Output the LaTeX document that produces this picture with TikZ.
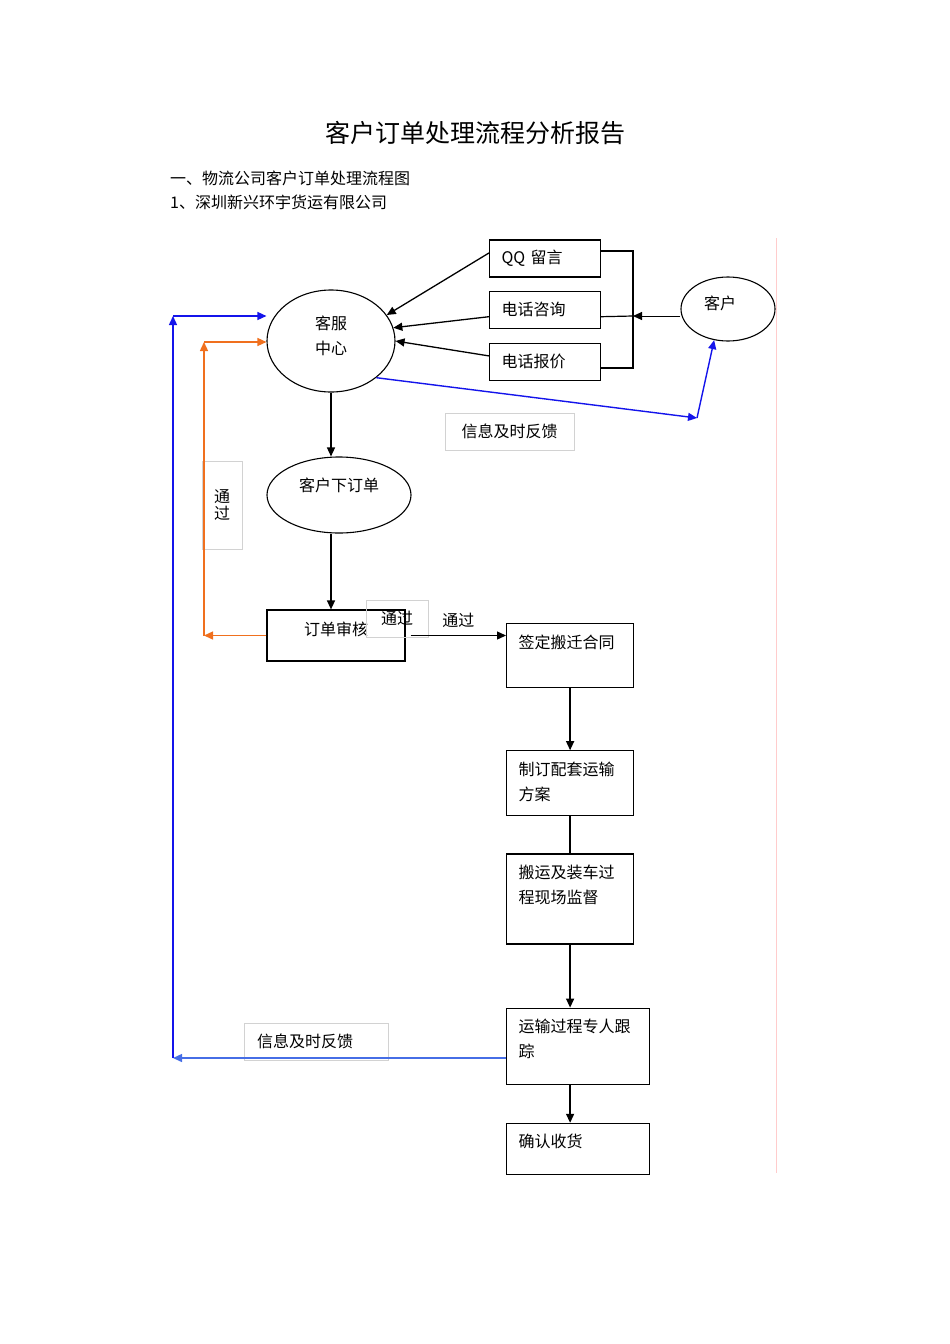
\documentclass[tikz,border=0pt]{standalone}
\usepackage{fontspec}
\setmainfont{Noto Sans CJK SC}
\usetikzlibrary{positioning, shapes.geometric, arrows.meta, calc}

\definecolor{fbblue}{RGB}{20,20,235}
\definecolor{fbblue2}{RGB}{70,110,230}
\definecolor{passorange}{RGB}{240,112,30}

\newcommand{\boxtext}[3]{\parbox[t][#2][t]{#1}{\raggedright #3}}

\begin{document}
\begin{tikzpicture}[
        x=1pt, y=-1pt,
        >={Triangle[length=9pt,width=8pt]},
        every node/.style={font=\fontsize{16}{25}\selectfont},
        proc/.style={
            draw, line width=1.2pt,
            inner xsep=12pt, inner ysep=11pt,
            anchor=north west
        },
        chan/.style={
            draw, line width=1.2pt,
            minimum width=111pt, minimum height=37pt,
            text width=87pt, align=left,
            inner xsep=12pt, inner ysep=0pt
        },
        oval/.style={
            draw, ellipse, line width=1.1pt,
            inner sep=0pt, align=center
        },
        note/.style={
            draw=gray!35, line width=0.6pt,
            inner sep=0pt, align=center
        },
        flow/.style={->, line width=1.3pt},
        fbline/.style={->, line width=1.4pt, draw=fbblue},
        passline/.style={->, line width=1.4pt, draw=passorange}
    ]

    \useasboundingbox (0,0) rectangle (950,1344);

    % --- Kopf ---
    \node[font=\fontsize{25}{30}\selectfont] (title) at (475,133) {客户订单处理流程分析报告};
    \node[anchor=west, inner sep=0pt] (sec) at (170,178) {一、物流公司客户订单处理流程图};
    \node[anchor=west, inner sep=0pt] (sub) at (170,202) {1、深圳新兴环宇货运有限公司};

    % --- Kanaele und Kunde ---
    \node[chan] (qq) at (545,258.5) {QQ 留言};
    \node[chan, below=13pt of qq] (tel) {电话咨询};
    \node[chan, below=14pt of tel] (quote) {电话报价};

    \node[oval, minimum width=94pt, minimum height=64pt, text depth=12pt] (kh) at (728,309) {客户\hspace*{16pt}};
    \node[oval, minimum width=128pt, minimum height=102pt, text depth=12pt] (ksc) at (331,341) {客服\\中心};
    \node[oval, minimum width=144pt, minimum height=76pt, text depth=20pt] (order) at (339,495) {客户下订单};
    \node[draw, line width=1.2pt, minimum width=138pt, minimum height=51pt, text depth=14pt] (check) at (336,635.5) {订单审核};

    % --- Ablauf rechts ---
    \node[proc] (contract) at (506,623) {\boxtext{103pt}{42pt}{签定搬迁合同}};
    \node[proc, below=62pt of contract] (plan) {\boxtext{103pt}{43pt}{制订配套运输\\方案}};
    \node[proc, below=37pt of plan] (watch) {\boxtext{103pt}{68pt}{搬运及装车过\\程现场监督}};
    \node[proc, below=63pt of watch, xshift=8pt] (track) {\boxtext{119pt}{54pt}{运输过程专人跟\\踪}};
    \node[proc, below=38pt of track] (recv) {\boxtext{119pt}{29pt}{确认收货}};

    % --- Beschriftungen ---
    \node[note, minimum width=129pt, minimum height=37pt] (fbtop) at (509.5,431.5) {信息及时反馈};
    \node[note, minimum width=144pt, minimum height=37pt, text width=118pt, align=left, inner xsep=13pt] (fbbot) at (316,1041.5) {信息及时反馈};
    \node[note, minimum width=40pt, minimum height=88pt, font=\fontsize{16}{17}\selectfont] (passv) at (222,505) {通\\过};
    \node[note, minimum width=62pt, minimum height=37pt] (passh) at (397,618.5) {通过};

    % --- Verbindungen ---
    \draw[flow] ([yshift=5.5pt]qq.west) -- (ksc.25);
    \draw[flow] ([yshift=-7pt]tel.west) -- (ksc.12);
    \draw[flow] ([yshift=6pt]quote.west) -- (ksc.0);

    \coordinate (hub) at (633,316);
    \draw[line width=1.2pt] ([yshift=7.5pt]qq.east) -| (hub) |- ([yshift=-6pt]quote.east);
    \draw[line width=1.2pt] ([yshift=-7pt]tel.east) -- (hub);
    \draw[flow, line width=1pt] (kh.west |- hub) -- (hub);

    \coordinate (fbturn) at (697,418);
    \draw[fbline] (ksc.-39) -- (fbturn);
    \draw[fbline] (fbturn) -- (kh.246);

    \draw[flow] (ksc.south) -- (ksc.south |- order.north);
    \draw[flow] (order.south -| ksc.south) -- (ksc.south |- check.north);
    \draw[flow] ([xshift=5pt]check.east) -- (check.east -| contract.west) node[midway, above, yshift=4pt] {通过};

    \draw[flow] (contract.south) -- (plan.north);
    \draw[line width=1.3pt] (plan.south) -- (watch.north);
    \draw[flow] (watch.south) -- (watch.south |- track.north);
    \draw[flow] (watch.south |- track.south) -- (watch.south |- recv.north);

    % orange Rueckfuehrung
    \coordinate (passlow) at (204,635.5);
    \coordinate (passup) at (204,342);
    \draw[passline] (check.west) -- (passlow);
    \draw[passline] (passlow) -- (passup);
    \draw[passline] (passup) -- (passup -| ksc.west);

    % blaue Rueckmeldung
    \coordinate (fblow) at (173,1058);
    \coordinate (fbup) at (173,316);
    \draw[fbline, draw=fbblue2] (fblow -| track.west) -- (fblow);
    \draw[fbline] (fblow) -- (fbup);
    \draw[fbline] (fbup) -- (fbup -| ksc.west);

    \draw[red!20, line width=0.6pt] (776,238) -- (776,1173);

\end{tikzpicture}
\end{document}
